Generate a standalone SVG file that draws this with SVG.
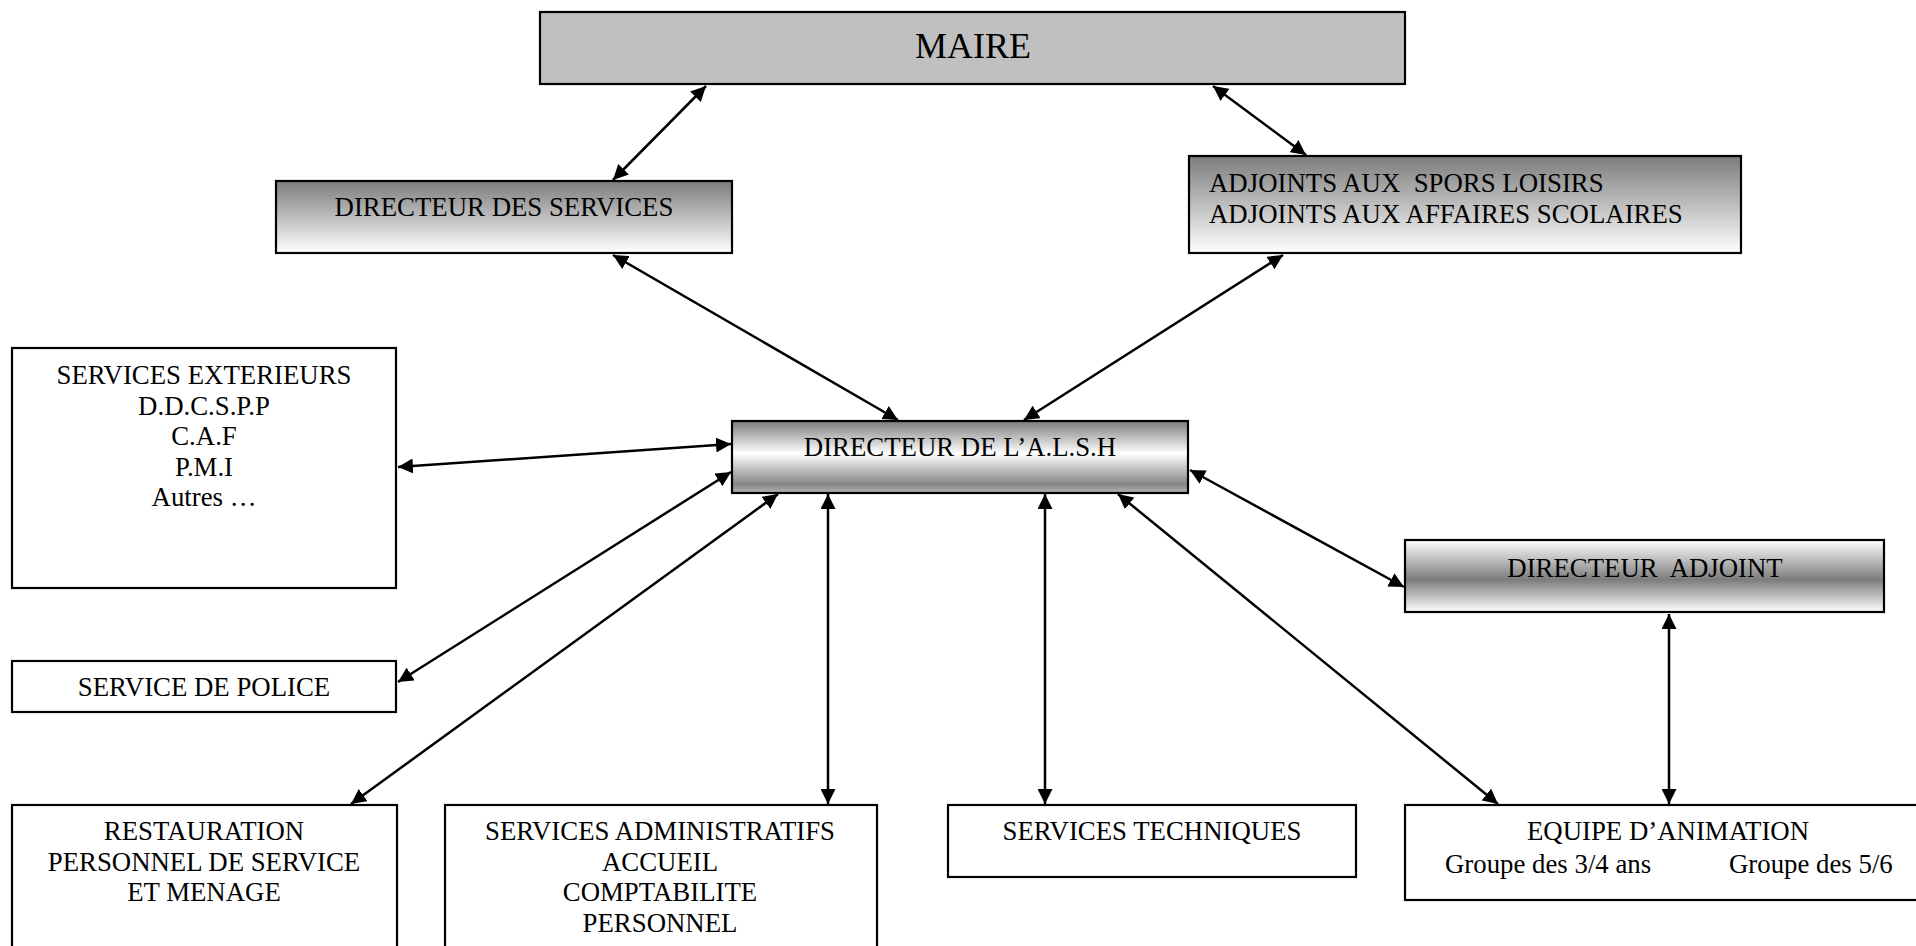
<svg xmlns="http://www.w3.org/2000/svg" width="1916" height="946" viewBox="0 0 1916 946">
<style>
.box{stroke:#000;stroke-width:2.2;}
.plain{fill:#fff;}
text{font-family:"Liberation Serif","Times New Roman",serif;font-size:26.8px;fill:#000;}
.c{text-anchor:middle;}
.con line{stroke:#000;stroke-width:2.5;marker-start:url(#ah);marker-end:url(#ah);}
</style>
<defs>
<marker id="ah" viewBox="0 0 10 10" refX="10" refY="5" markerUnits="userSpaceOnUse" markerWidth="15" markerHeight="15" orient="auto-start-reverse">
<path d="M0,0 L10,5 L0,10 z" fill="#000"/>
</marker>
<linearGradient id="gDown" x1="0" y1="0" x2="0" y2="1">
<stop offset="0" stop-color="#7c7c7c"/>
<stop offset="1" stop-color="#ffffff"/>
</linearGradient>
<linearGradient id="gPipe" x1="0" y1="0" x2="0" y2="1">
<stop offset="0" stop-color="#7c7c7c"/>
<stop offset="0.45" stop-color="#ffffff"/>
<stop offset="0.88" stop-color="#858585"/>
<stop offset="1" stop-color="#b5b5b5"/>
</linearGradient>
<linearGradient id="gMid" x1="0" y1="0" x2="0" y2="1">
<stop offset="0" stop-color="#ffffff"/>
<stop offset="0.55" stop-color="#7c7c7c"/>
<stop offset="1" stop-color="#ffffff"/>
</linearGradient>
</defs>

<g id="maire">
<rect class="box" x="540" y="12" width="865" height="72" fill="#c0c0c0"/>
<text class="c" x="973" y="58" style="font-size:36px">MAIRE</text>
</g>

<g id="directeur-services">
<rect class="box" x="276" y="181" width="456" height="72" fill="url(#gDown)"/>
<text class="c" x="504" y="216">DIRECTEUR DES SERVICES</text>
</g>

<g id="adjoints">
<rect class="box" x="1189" y="156" width="552" height="97" fill="url(#gDown)"/>
<text x="1209" y="192" xml:space="preserve">ADJOINTS AUX  SPORS LOISIRS</text>
<text x="1209" y="223">ADJOINTS AUX AFFAIRES SCOLAIRES</text>
</g>

<g id="services-exterieurs">
<rect class="box plain" x="12" y="348" width="384" height="240"/>
<text class="c" x="204" y="384">SERVICES EXTERIEURS</text>
<text class="c" x="204" y="414.5">D.D.C.S.P.P</text>
<text class="c" x="204" y="445">C.A.F</text>
<text class="c" x="204" y="475.5">P.M.I</text>
<text class="c" x="204" y="506">Autres …</text>
</g>

<g id="directeur-alsh">
<rect class="box" x="732" y="421" width="456" height="72" fill="url(#gPipe)"/>
<text class="c" x="960" y="456">DIRECTEUR DE L’A.L.S.H</text>
</g>

<g id="directeur-adjoint">
<rect class="box" x="1405" y="540" width="479" height="72" fill="url(#gMid)"/>
<text class="c" x="1645" y="577" xml:space="preserve">DIRECTEUR  ADJOINT</text>
</g>

<g id="police">
<rect class="box plain" x="12" y="661" width="384" height="51"/>
<text class="c" x="204" y="696">SERVICE DE POLICE</text>
</g>

<g id="restauration">
<rect class="box plain" x="12" y="805" width="385" height="150"/>
<text class="c" x="204" y="840">RESTAURATION</text>
<text class="c" x="204" y="870.5">PERSONNEL DE SERVICE</text>
<text class="c" x="204" y="901">ET MENAGE</text>
</g>

<g id="administratifs">
<rect class="box plain" x="445" y="805" width="432" height="150"/>
<text class="c" x="660" y="840">SERVICES ADMINISTRATIFS</text>
<text class="c" x="660" y="870.5">ACCUEIL</text>
<text class="c" x="660" y="901">COMPTABILITE</text>
<text class="c" x="660" y="931.5">PERSONNEL</text>
</g>

<g id="techniques">
<rect class="box plain" x="948" y="805" width="408" height="72"/>
<text class="c" x="1152" y="840">SERVICES TECHNIQUES</text>
</g>

<g id="equipe">
<rect class="box plain" x="1405" y="805" width="530" height="95"/>
<text class="c" x="1668" y="840">EQUIPE D’ANIMATION</text>
<text x="1445" y="873">Groupe des 3/4 ans</text>
<text x="1729" y="873">Groupe des 5/6</text>
</g>

<g id="connectors" class="con">
<line x1="706" y1="86" x2="613" y2="180"/>
<line x1="1213" y1="86" x2="1306" y2="155"/>
<line x1="613" y1="255" x2="898" y2="420"/>
<line x1="1283" y1="255" x2="1024" y2="420"/>
<line x1="398" y1="467" x2="731" y2="444"/>
<line x1="398" y1="682" x2="731" y2="472"/>
<line x1="351" y1="804" x2="778" y2="494"/>
<line x1="828" y1="804" x2="828" y2="494"/>
<line x1="1045" y1="804" x2="1045" y2="494"/>
<line x1="1498" y1="804" x2="1118" y2="494"/>
<line x1="1190" y1="470" x2="1404" y2="587"/>
<line x1="1669" y1="614" x2="1669" y2="804"/>
</g>
</svg>
